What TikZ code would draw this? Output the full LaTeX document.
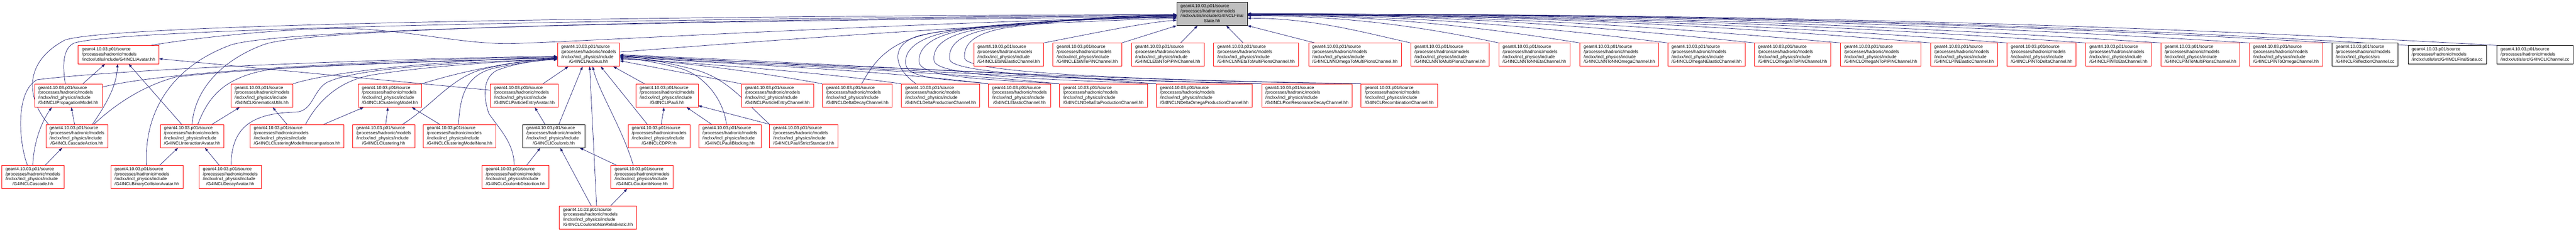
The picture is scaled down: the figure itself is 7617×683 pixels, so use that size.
\documentclass[tikz,border=0pt]{standalone}
\usepackage{fontspec}
\setmainfont{Liberation Sans}
\usetikzlibrary{arrows.meta,backgrounds}

\definecolor{edgeblue}{HTML}{191970}
\definecolor{rootgray}{HTML}{BFBFBF}

% labels: three left lines, last line centred
\newcommand{\fourline}[2]{%
  \begin{tabular}{@{}l@{}}geant4.10.03.p01/source\\/processes/hadronic/models\\#1\\\multicolumn{1}{@{}c@{}}{#2}\end{tabular}}
\newcommand{\incfile}[1]{\fourline{/inclxx/incl\_physics/include}{#1}}
\newcommand{\threeline}[1]{%
  \begin{tabular}{@{}l@{}}geant4.10.03.p01/source\\/processes/hadronic/models\\#1\end{tabular}}

\tikzset{
  filebox/.style={draw=red, line width=1.3pt, fill=white, inner xsep=11pt, inner ysep=4.75pt,
    font=\fontsize{13pt}{14.8pt}\selectfont},
  plainbox/.style={filebox, draw=black},
  rootbox/.style={filebox, draw=black, fill=rootgray},
  dep/.style={draw=edgeblue, line width=1.1pt, -{Triangle[length=10pt,width=7pt]}}
}

\begin{document}
\begin{tikzpicture}[x=1pt,y=-1pt]
    \useasboundingbox (0,0) rectangle (7617,683);

    % First row
    \node[rootbox] (fs) at (3584,41) {\fourline{/inclxx/utils/include/G4INCLFinal}{State.hh}};

    % Second row
    \node[filebox] (iavatar) at (350.5,162) {\threeline{/inclxx/utils/include/G4INCLIAvatar.hh}};
    \node[filebox] (nucleus) at (1740.5,162) {\incfile{/G4INCLNucleus.hh}};
    \node[filebox] (etanel) at (2982.5,162) {\incfile{/G4INCLEtaNElasticChannel.hh}};
    \node[filebox] (etantopin) at (3215,162) {\incfile{/G4INCLEtaNToPiNChannel.hh}};
    \node[filebox] (etantopipin) at (3453,162) {\incfile{/G4INCLEtaNToPiPiNChannel.hh}};
    \node[filebox] (nnetamulti) at (3714,162) {\incfile{/G4INCLNNEtaToMultiPionsChannel.hh}};
    \node[filebox] (nnomegamulti) at (4006.5,162) {\incfile{/G4INCLNNOmegaToMultiPionsChannel.hh}};
    \node[filebox] (nntomulti) at (4287.5,162) {\incfile{/G4INCLNNToMultiPionsChannel.hh}};
    \node[filebox] (nntonneta) at (4537,162) {\incfile{/G4INCLNNToNNEtaChannel.hh}};
    \node[filebox] (nntonnomega) at (4788,162) {\incfile{/G4INCLNNToNNOmegaChannel.hh}};
    \node[filebox] (omeganel) at (5046,162) {\incfile{/G4INCLOmegaNElasticChannel.hh}};
    \node[filebox] (omegantopin) at (5300.5,162) {\incfile{/G4INCLOmegaNToPiNChannel.hh}};
    \node[filebox] (omegantopipin) at (5561,162) {\incfile{/G4INCLOmegaNToPiPiNChannel.hh}};
    \node[filebox] (pinel) at (5807.5,162) {\incfile{/G4INCLPiNElasticChannel.hh}};
    \node[filebox] (pintodelta) at (6037,162) {\incfile{/G4INCLPiNToDeltaChannel.hh}};
    \node[filebox] (pintoeta) at (6264,162) {\incfile{/G4INCLPiNToEtaChannel.hh}};
    \node[filebox] (pintomulti) at (6506.5,162) {\incfile{/G4INCLPiNToMultiPionsChannel.hh}};
    \node[filebox] (pintoomega) at (6759.5,162) {\incfile{/G4INCLPiNToOmegaChannel.hh}};
    \node[plainbox] (reflcc) at (6993,162) {\fourline{/inclxx/incl\_physics/src}{/G4INCLReflectionChannel.cc}};
    \node[plainbox] (fscc) at (7236,162) {\threeline{/inclxx/utils/src/G4INCLFinalState.cc}};
    \node[plainbox] (ichcc) at (7495.5,162) {\threeline{/inclxx/utils/src/G4INCLIChannel.cc}};

    % Third row
    \node[filebox] (ipropag) at (202,283) {\incfile{/G4INCLIPropagationModel.hh}};
    \node[filebox] (kinutils) at (774.5,283) {\incfile{/G4INCLKinematicsUtils.hh}};
    \node[filebox] (iclust) at (1153,283) {\incfile{/G4INCLIClusteringModel.hh}};
    \node[filebox] (pentryav) at (1550.5,283) {\incfile{/G4INCLParticleEntryAvatar.hh}};
    \node[filebox] (ipauli) at (1972.5,283) {\incfile{/G4INCLIPauli.hh}};
    \node[filebox] (pentrych) at (2299,283) {\incfile{/G4INCLParticleEntryChannel.hh}};
    \node[filebox] (deltadecay) at (2535,283) {\incfile{/G4INCLDeltaDecayChannel.hh}};
    \node[filebox] (deltaprod) at (2781.5,283) {\incfile{/G4INCLDeltaProductionChannel.hh}};
    \node[filebox] (elastic) at (3014.5,283) {\incfile{/G4INCLElasticChannel.hh}};
    \node[filebox] (ndeltaeta) at (3262.5,283) {\incfile{/G4INCLNDeltaEtaProductionChannel.hh}};
    \node[filebox] (ndeltaomega) at (3561,283) {\incfile{/G4INCLNDeltaOmegaProductionChannel.hh}};
    \node[filebox] (pionres) at (3864.5,283) {\incfile{/G4INCLPionResonanceDecayChannel.hh}};
    \node[filebox] (recomb) at (4137.5,283) {\incfile{/G4INCLRecombinationChannel.hh}};

    % Fourth row
    \node[filebox] (cascact) at (227.5,403) {\incfile{/G4INCLCascadeAction.hh}};
    \node[filebox] (interav) at (568,403) {\incfile{/G4INCLInteractionAvatar.hh}};
    \node[filebox] (clustinter) at (878.5,403) {\incfile{/G4INCLClusteringModelIntercomparison.hh}};
    \node[filebox] (clustering) at (1134.5,403) {\incfile{/G4INCLClustering.hh}};
    \node[filebox] (clustnone) at (1359,403) {\incfile{/G4INCLClusteringModelNone.hh}};
    \node[plainbox] (icoulomb) at (1637.5,403) {\incfile{/G4INCLICoulomb.hh}};
    \node[filebox] (cdpp) at (1949,403) {\incfile{/G4INCLCDPP.hh}};
    \node[filebox] (pauliblock) at (2158,403) {\incfile{/G4INCLPauliBlocking.hh}};
    \node[filebox] (paulistrict) at (2376.5,403) {\incfile{/G4INCLPauliStrictStandard.hh}};

    % Fifth and sixth rows
    \node[filebox] (cascade) at (97,524) {\incfile{/G4INCLCascade.hh}};
    \node[filebox] (binav) at (434.5,524) {\incfile{/G4INCLBinaryCollisionAvatar.hh}};
    \node[filebox] (decayav) at (681,524) {\incfile{/G4INCLDecayAvatar.hh}};
    \node[filebox] (coulombdist) at (1524.5,524) {\incfile{/G4INCLCoulombDistortion.hh}};
    \node[filebox] (coulombnone) at (1898.5,524) {\incfile{/G4INCLCoulombNone.hh}};
    \node[filebox] (coulombnonrel) at (1768,644) {\incfile{/G4INCLCoulombNonRelativistic.hh}};

    \begin{pgfonlayer}{background}
    \fill[white] (0,0) rectangle (7617,683);

    % Cascade and cascade action
    \draw[dep] ([xshift=-16pt]cascade.north) .. controls (55,420) and (45,270) .. (110,236) .. controls (400,200) and (1300,170) .. (nucleus.183);
    \draw[dep] (cascade.north) .. controls (100,410) and (130,350) .. ([xshift=-49pt]ipropag.south);
    \draw[dep] ([xshift=37pt]cascade.north) -- ([xshift=-44pt]cascact.south);
    \draw[dep] ([xshift=-84pt]cascact.north) .. controls (85,300) and (60,190) .. (191,119) .. controls (300,78) and (1500,50) .. (fs.181);
    \draw[dep] ([xshift=-7pt]cascact.north) -- ([xshift=9pt]ipropag.south);
    \draw[dep] ([xshift=46pt]cascact.north) .. controls (320,300) and (345,250) .. ([xshift=-3pt]iavatar.south);
    \draw[dep] ([xshift=50pt]cascact.north) .. controls (340,310) and (420,255) .. (520,228) .. controls (800,195) and (1400,178) .. (nucleus.186);

    % Propagation model and avatars
    \draw[dep] ([xshift=-9pt]ipropag.north) .. controls (185,195) and (185,145) .. (218,128) .. controls (330,88) and (1600,58) .. (fs.182);
    \draw[dep] ([xshift=43pt]ipropag.north) -- ([xshift=-40pt]iavatar.south);
    \draw[dep] ([yshift=25pt]ipropag.east) .. controls (500,205) and (1300,172) .. (nucleus.184);
    \draw[dep] ([xshift=95pt]iavatar.north) .. controls (600,108) and (850,85) .. (1000,84) .. controls (1200,85) and (1350,130) .. (1506,129) .. controls (1700,125) and (2500,75) .. (fs.184);
    \draw[dep] (interav.north) .. controls (575,270) and (650,180) .. (780,132) .. controls (880,95) and (1600,62) .. (fs.183);
    \draw[dep] ([xshift=-31pt]interav.north) -- ([xshift=30pt]iavatar.south);
    \draw[dep] ([xshift=17pt]interav.north) .. controls (615,290) and (660,225) .. (810,204) .. controls (1100,185) and (1450,176) .. (nucleus.186);
    \draw[dep] ([xshift=59pt]interav.north) -- ([xshift=-66pt]kinutils.south);
    \draw[dep] ([xshift=-1pt]binav.north) .. controls (425,340) and (500,200) .. (683,133) .. controls (800,95) and (1600,64) .. (fs.185);
    \draw[dep] ([xshift=38pt]binav.north) -- ([xshift=-42pt]interav.south);
    \draw[dep] ([xshift=-33pt]decayav.north) -- ([xshift=38pt]interav.south);
    \draw[dep] ([xshift=2pt]decayav.north) .. controls (685,380) and (740,335) .. (874,332) .. controls (925,330) and (925,270) .. (965,245) .. controls (1060,195) and (1450,182) .. (nucleus.188);

    % Kinematics and clustering
    \draw[dep] (kinutils.north east) .. controls (1000,205) and (1400,174) .. (nucleus.185);
    \draw[dep] ([xshift=-30pt]clustinter.north) -- ([xshift=32pt]kinutils.south);
    \draw[dep] ([xshift=25pt]clustinter.north) .. controls (940,300) and (1000,240) .. (1100,222) .. controls (1300,190) and (1550,180) .. (nucleus.187);
    \draw[dep] ([xshift=79pt]clustinter.north) -- ([xshift=-78pt]iclust.south);
    \draw[dep] ([xshift=6pt]clustering.north) -- ([xshift=-6pt]iclust.south);
    \draw[dep] ([xshift=56pt]clustering.north) .. controls (1275,315) and (1330,235) .. (1420,207) .. controls (1520,182) and (1600,177) .. (nucleus.186);
    \draw[dep] ([xshift=-59pt]clustnone.north) -- ([xshift=65pt]iclust.south);
    \draw[dep] ([xshift=-3pt]clustnone.north) .. controls (1360,280) and (1380,222) .. (1460,202) .. controls (1540,185) and (1600,178) .. (nucleus.187);
    \draw[dep] (iclust.north east) .. controls (1400,200) and (1550,180) .. (nucleus.185);

    % Particle entry and Coulomb
    \draw[dep] ([yshift=16pt]pentryav.west) -- ([yshift=-12pt]iavatar.east);
    \draw[dep] ([xshift=55pt]pentryav.north) -- ([xshift=-60pt]nucleus.south);
    \draw[dep] ([xshift=-26pt]icoulomb.north) -- ([xshift=31pt]pentryav.south);
    \draw[dep] ([xshift=15pt]icoulomb.north) -- ([xshift=-18pt]nucleus.south);
    \draw[dep] ([xshift=33pt]coulombdist.north) -- ([xshift=-40pt]icoulomb.south);
    \draw[dep] ([xshift=-4pt]coulombdist.north) .. controls (1520,420) and (1470,375) .. (1445,335) .. controls (1430,290) and (1425,230) .. (1470,208) .. controls (1530,185) and (1600,178) .. (nucleus.189);
    \draw[dep] ([xshift=-76pt]coulombnone.north) -- ([xshift=77pt]icoulomb.south);
    \draw[dep] ([xshift=-26pt]coulombnone.north) .. controls (1840,380) and (1770,270) .. ([xshift=12pt]nucleus.south);
    \draw[dep] ([xshift=-20pt]coulombnonrel.north) -- ([xshift=19pt]icoulomb.south);
    \draw[dep] ([xshift=-4pt]coulombnonrel.north) -- ([xshift=3pt]nucleus.south);
    \draw[dep] ([xshift=38pt]coulombnonrel.north) -- ([xshift=-44pt]coulombnone.south);

    % Pauli
    \draw[dep] ([xshift=6pt]cdpp.north) -- ([xshift=-9pt]ipauli.south);
    \draw[dep] ([xshift=-35pt]cdpp.north) -- ([xshift=36pt]nucleus.south);
    \draw[dep] ([xshift=-54pt]pauliblock.north) -- ([xshift=58pt]ipauli.south);
    \draw[dep] ([xshift=-10pt]pauliblock.north) .. controls (2140,300) and (2090,230) .. (2020,205) .. controls (1950,185) and (1880,175) .. (nucleus.355);
    \draw[dep] ([xshift=-101pt]paulistrict.north) -- ([yshift=-30pt]ipauli.east);
    \draw[dep] ([xshift=-101pt]paulistrict.north) .. controls (2200,300) and (2150,230) .. (2050,205) .. controls (1950,180) and (1880,168) .. (nucleus.358);
    \draw[dep] ([xshift=-67pt]ipauli.north) -- ([xshift=73pt]nucleus.south);

    % Nucleus
    \draw[dep] (nucleus.5) .. controls (2400,110) and (3000,68) .. (fs.187);
    \draw[dep] (pentrych.north west) -- (nucleus.349);
    \draw[dep] (deltadecay.north west) .. controls (2250,215) and (2000,180) .. (nucleus.352);
    \draw[dep] (deltaprod.north west) .. controls +(-250,-35) and +(300,22) .. (nucleus.354);
    \draw[dep] (elastic.north west) .. controls +(-350,-42) and +(400,25) .. (nucleus.356);
    \draw[dep] (ndeltaeta.north west) .. controls +(-450,-44) and +(450,28) .. (nucleus.357);
    \draw[dep] (ndeltaomega.north west) .. controls +(-550,-45) and +(550,30) .. (nucleus.358);
    \draw[dep] (pionres.north west) .. controls +(-650,-12) and +(600,30) .. (nucleus.359);
    \draw[dep] (recomb.north west) .. controls +(-766,-8) and +(600,25) .. (nucleus.0);

    % Channels up to the final state, left side
    \draw[dep] ([xshift=13pt]deltadecay.north) .. controls (2590,170) and (2640,120) .. (2760,97) .. controls (2950,65) and (3250,55) .. (fs.186);
    \draw[dep] ([xshift=-73pt]deltaprod.north) .. controls (2640,200) and (2630,130) .. (2720,105) .. controls (2850,75) and (3200,56) .. (fs.185);
    \draw[dep] (elastic.north west) .. controls (2800,234) and (2685,235) .. (2678,190) .. controls (2672,140) and (2730,105) .. (2830,90) .. controls (3000,65) and (3300,52) .. (fs.184);
    \draw[dep] (ndeltaeta.north west) .. controls (2950,236) and (2725,232) .. (2718,185) .. controls (2712,135) and (2770,100) .. (2870,86) .. controls (3050,62) and (3300,50) .. (fs.183);
    \draw[dep] (ndeltaomega.north west) .. controls (3150,236) and (2770,230) .. (2762,180) .. controls (2755,130) and (2810,98) .. (2910,84) .. controls (3100,60) and (3300,48) .. (fs.182);
    \draw[dep] (pionres.north west) .. controls (3400,238) and (2815,228) .. (2808,176) .. controls (2802,128) and (2850,96) .. (2950,82) .. controls (3130,60) and (3300,47) .. (fs.182);
    \draw[dep] (recomb.north west) .. controls (3600,240) and (2858,226) .. (2852,172) .. controls (2848,125) and (2890,94) .. (2990,80) .. controls (3150,60) and (3300,46) .. (fs.181);
    \draw[dep] (etanel.north east) .. controls (3250,95) and (3380,68) .. (fs.190);
    \draw[dep] (etantopin.north east) -- (fs.south west);
    \draw[dep] ([xshift=38pt]etantopipin.north) -- ([xshift=-43pt]fs.south);
    \draw[dep] ([xshift=-38pt]nnetamulti.north) -- ([xshift=42pt]fs.south);
    \draw[dep] ([xshift=19pt]nnomegamulti.north west) -- (fs.south east);

    % Channels up to the final state, right side
    \draw[dep] (nntomulti.north west) .. controls +(-143,-32) and +(191,0) .. (fs.353);
    \draw[dep] (nntonneta.north west) .. controls +(-221,-47) and +(295,0) .. (fs.357);
    \draw[dep] (nntonnomega.north west) .. controls +(-293,-47) and +(391,0) .. (fs.358);
    \draw[dep] (omeganel.north west) .. controls +(-372,-47) and +(496,0) .. (fs.358);
    \draw[dep] (omegantopin.north west) .. controls +(-448,-47) and +(598,0) .. (fs.359);
    \draw[dep] (omegantopipin.north west) .. controls +(-525,-47) and +(700,0) .. (fs.359);
    \draw[dep] (pinel.north west) .. controls +(-605,-50) and +(806,0) .. (fs.359);
    \draw[dep] (pintodelta.north west) .. controls +(-673,-50) and +(897,0) .. (fs.359);
    \draw[dep] (pintoeta.north west) .. controls +(-742,-52) and +(990,0) .. (fs.359);
    \draw[dep] (pintomulti.north west) .. controls +(-809,-52) and +(1078,0) .. (fs.0);
    \draw[dep] (pintoomega.north west) .. controls +(-888,-55) and +(1184,0) .. (fs.0);
    \draw[dep] (reflcc.north west) .. controls +(-961,-55) and +(1281,0) .. (fs.0);
    \draw[dep] (fscc.north west) .. controls +(-1028,-62) and +(1370,0) .. (fs.0);
    \draw[dep] (ichcc.north west) .. controls +(-1107,-62) and +(1476,0) .. (fs.0);
    \end{pgfonlayer}
\end{tikzpicture}
\end{document}
